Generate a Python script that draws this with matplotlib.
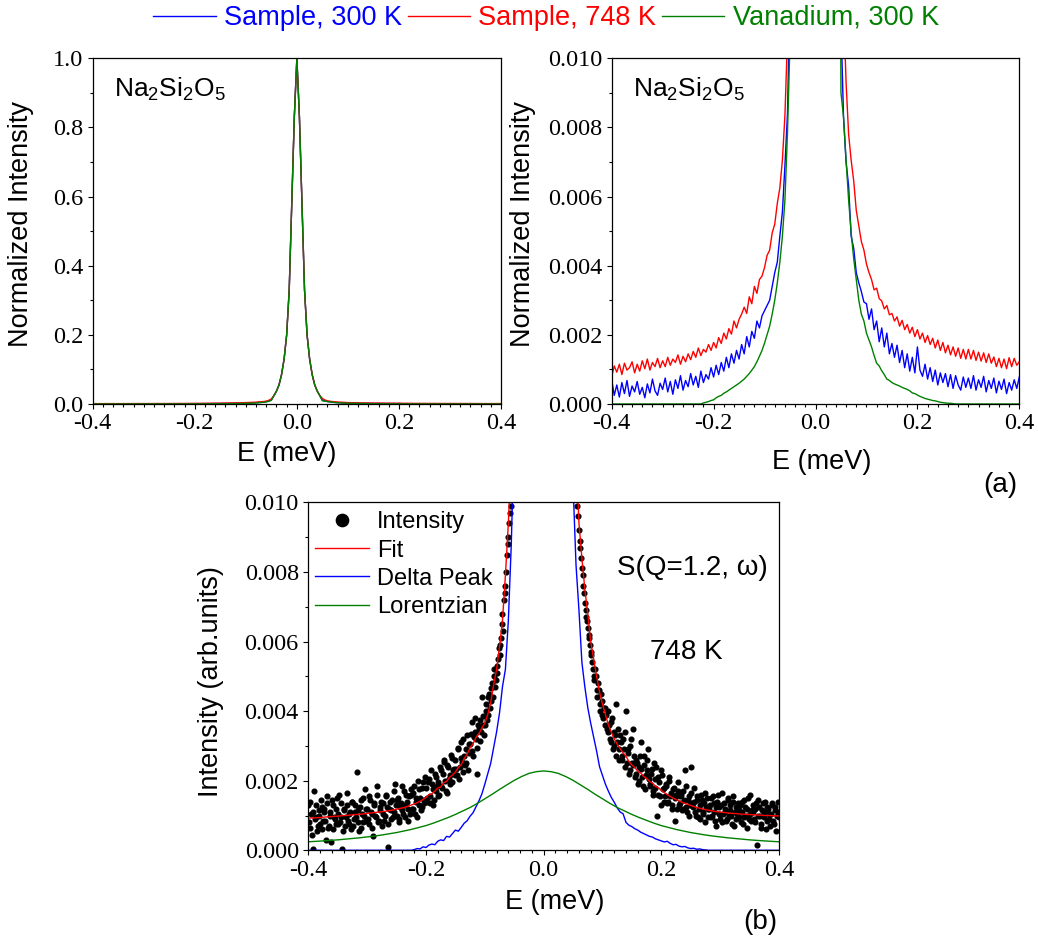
import numpy as np
import matplotlib
matplotlib.use("Agg")
from matplotlib import pyplot as plt
from matplotlib.ticker import MultipleLocator, FuncFormatter

plt.rcParams['font.family'] = ['Liberation Sans', 'DejaVu Sans']
plt.rcParams['mathtext.fontset'] = 'custom'
plt.rcParams['mathtext.rm'] = 'Liberation Sans'
plt.rcParams['mathtext.it'] = 'Liberation Sans:italic'
plt.rcParams['mathtext.bf'] = 'Liberation Sans:bold'
plt.rcParams['axes.unicode_minus'] = False

## Intensities in units of 1e-3 (normalized)
## tails: E = -0.400 ... -0.050 and 0.050 ... 0.400 in 0.005 meV bins
## core:  E = -0.045 ... 0.045 in 0.005 meV bins (all three spectra coincide)
peak_core = [24, 37, 55, 85, 130, 200, 330, 580, 830, 1000,
             830, 580, 330, 200, 130, 85, 55, 37, 24]

red_left = [0.80, 1.10, 0.92, 1.15, 0.85, 1.18, 0.98, 1.05, 1.22, 0.90,
            1.15, 0.95, 1.25, 1.02, 1.30, 0.98, 1.20, 1.08, 1.32, 1.05,
            1.25, 1.08, 1.35, 1.12, 1.30, 1.20, 1.42, 1.15, 1.38, 1.22,
            1.45, 1.28, 1.52, 1.35, 1.62, 1.40, 1.58, 1.50, 1.72, 1.55,
            1.78, 1.62, 1.92, 1.75, 2.05, 1.88, 2.18, 2.02, 2.40, 2.20,
            2.45, 2.60, 2.80, 2.62, 3.10, 2.90, 3.40, 3.20, 3.60, 3.70,
            3.95, 4.30, 4.45, 4.95, 5.20, 5.80, 6.25, 7.05, 8.35, 10.6,
            14.5]
red_right = [16.0, 11.5, 9.3, 7.8, 7.05, 6.45, 5.60, 5.15, 4.70, 4.45,
             4.05, 3.80, 3.60, 3.30, 3.35, 3.05, 2.98, 2.75, 2.85, 2.58,
             2.62, 2.40, 2.52, 2.25, 2.42, 2.15, 2.30, 2.05, 2.22, 1.95,
             2.15, 1.88, 2.05, 1.78, 1.98, 1.72, 1.90, 1.62, 1.85, 1.55,
             1.78, 1.48, 1.70, 1.42, 1.65, 1.38, 1.62, 1.32, 1.58, 1.30,
             1.58, 1.30, 1.55, 1.26, 1.50, 1.24, 1.48, 1.20, 1.45, 1.18,
             1.36, 1.08, 1.32, 1.05, 1.30, 1.02, 1.34, 1.08, 1.32, 1.12,
             1.22]

blue_left = [0.70, 0.25, 0.55, 0.20, 0.62, 0.30, 0.68, 0.22, 0.52, 0.35,
             0.65, 0.28, 0.48, 0.18, 0.58, 0.32, 0.72, 0.38, 0.25, 0.60,
             0.42, 0.75, 0.35, 0.65, 0.28, 0.70, 0.45, 0.82, 0.40, 0.68,
             0.50, 0.88, 0.55, 0.80, 0.48, 0.95, 0.62, 0.85, 0.72, 1.05,
             0.78, 1.12, 0.85, 1.20, 0.95, 1.35, 1.05, 1.45, 1.18, 1.55,
             1.30, 1.72, 1.45, 1.95, 1.65, 2.10, 1.90, 2.40, 2.20, 2.55,
             2.70, 2.85, 3.00, 3.40, 3.80, 4.10, 4.85, 5.55, 6.90, 8.40,
             12.0]
blue_right = [11.0, 8.3, 7.0, 6.3, 4.85, 4.50, 3.80, 3.50, 3.25, 2.95,
              2.90, 2.45, 2.75, 2.15, 2.40, 1.80, 2.20, 1.65, 2.05, 1.45,
              1.75, 1.35, 1.70, 1.20, 1.55, 1.05, 1.45, 0.95, 1.35, 0.90,
              1.65, 0.98, 0.80, 1.15, 0.72, 1.05, 0.65, 0.98, 0.55, 0.90,
              0.62, 0.88, 0.50, 0.85, 0.45, 0.82, 0.55, 0.40, 0.78, 0.48,
              0.75, 0.45, 0.82, 0.40, 0.70, 0.48, 0.80, 0.35, 0.68, 0.45,
              0.75, 0.32, 0.66, 0.42, 0.72, 0.30, 0.62, 0.40, 0.70, 0.45,
              0.78]

green_left = [0.0, 0.0, 0.0, 0.0, 0.0, 0.0, 0.0, 0.0, 0.0, 0.0,
              0.0, 0.0, 0.0, 0.0, 0.0, 0.0, 0.0, 0.0, 0.0, 0.0,
              0.0, 0.0, 0.0, 0.0, 0.0, 0.0, 0.0, 0.0, 0.0, 0.0,
              0.0, 0.0, 0.0, 0.0, 0.0, 0.0,
              0.03, 0.05, 0.07, 0.10, 0.12, 0.18, 0.22, 0.25, 0.31, 0.35,
              0.40, 0.45, 0.50, 0.55, 0.60, 0.66, 0.72, 0.80, 0.88, 0.98,
              1.08, 1.22, 1.38, 1.55, 1.76, 2.00, 2.25, 2.60, 3.00, 3.50,
              4.10, 4.85, 5.90, 7.85, 10.5]
green_right = [9.0, 8.3, 7.05, 5.90, 4.95, 4.20, 3.60, 3.00, 2.60, 2.40,
               2.05, 1.85, 1.65, 1.40, 1.18, 1.10, 0.96, 0.85, 0.72, 0.68,
               0.62, 0.58, 0.55, 0.52, 0.48, 0.45, 0.42, 0.38, 0.32, 0.30,
               0.26, 0.22, 0.19, 0.16, 0.14, 0.12, 0.10, 0.09, 0.07, 0.05,
               0.04, 0.03, 0.02, 0.02, 0.01,
               0.0, 0.0, 0.0, 0.0, 0.0, 0.0, 0.0, 0.0, 0.0, 0.0,
               0.0, 0.0, 0.0, 0.0, 0.0, 0.0, 0.0, 0.0, 0.0, 0.0,
               0.0, 0.0, 0.0, 0.0, 0.0, 0.0]

## Panel (b): S(Q=1.2, w) at 748 K, same tail bins
delta_left = [0.0, 0.0, 0.0, 0.0, 0.0, 0.0, 0.0, 0.0, 0.0, 0.0,
              0.0, 0.0, 0.0, 0.0, 0.0, 0.0, 0.0, 0.0, 0.0, 0.0,
              0.0, 0.0, 0.0, 0.0, 0.0, 0.0, 0.0, 0.0, 0.0, 0.0,
              0.0, 0.0, 0.0, 0.0, 0.0, 0.0,
              0.02, 0.05, 0.04, 0.10, 0.08, 0.15, 0.18, 0.16, 0.26, 0.30,
              0.28, 0.40, 0.38, 0.48, 0.58, 0.55, 0.66, 0.78, 0.85, 0.98,
              1.08, 1.25, 1.42, 1.62, 1.90, 2.20, 2.50, 2.95, 3.40, 3.95,
              4.70, 5.20, 6.60, 8.80, 12.0]
delta_right = [10.5, 8.2, 6.9, 5.4, 4.70, 4.10, 3.65, 3.25, 2.85, 2.40,
               2.15, 1.90, 1.70, 1.52, 1.38, 1.22, 1.10, 1.05, 0.80, 0.72,
               0.68, 0.62, 0.58, 0.52, 0.48, 0.44, 0.40, 0.38, 0.33, 0.30,
               0.27, 0.24, 0.26, 0.20, 0.16, 0.17, 0.12, 0.10, 0.11, 0.07,
               0.05, 0.06, 0.03, 0.04, 0.02, 0.01,
               0.0, 0.0, 0.0, 0.0, 0.0, 0.0, 0.0, 0.0, 0.0, 0.0,
               0.0, 0.0, 0.0, 0.0, 0.0, 0.0, 0.0, 0.0, 0.0, 0.0,
               0.0, 0.0, 0.0, 0.0, 0.0]

fit_left = [0.92, 0.93, 0.93, 0.94, 0.94, 0.95, 0.96, 0.96, 0.97, 0.98,
            0.98, 0.99, 1.00, 1.00, 1.01, 1.02, 1.03, 1.03, 1.04, 1.05,
            1.06, 1.07, 1.08, 1.09, 1.10, 1.11, 1.12, 1.13, 1.15, 1.16,
            1.18, 1.20, 1.22, 1.24, 1.27, 1.30, 1.33, 1.37, 1.41, 1.46,
            1.52, 1.60, 1.62, 1.70, 1.79, 1.82, 1.94, 1.98, 2.10, 2.16,
            2.25, 2.38, 2.46, 2.64, 2.76, 2.95, 3.06, 3.24, 3.34, 3.52,
            3.65, 3.90, 4.25, 4.75, 5.20, 5.85, 6.60, 7.90, 9.40, 11.5,
            15.0]
fit_right = [15.0, 11.5, 9.40, 8.40, 7.50, 6.80, 6.00, 5.50, 5.00, 4.55,
             4.20, 3.90, 3.60, 3.40, 3.20, 3.05, 2.92, 2.80, 2.70, 2.55,
             2.45, 2.38, 2.27, 2.22, 2.12, 2.07, 1.98, 1.93, 1.84, 1.80,
             1.72, 1.66, 1.60, 1.55, 1.50, 1.46, 1.42, 1.38, 1.35, 1.32,
             1.29, 1.26, 1.23, 1.21, 1.19, 1.17, 1.15, 1.14, 1.12, 1.11,
             1.10, 1.09, 1.08, 1.07, 1.06, 1.06, 1.05, 1.04, 1.04, 1.03,
             1.03, 1.02, 1.02, 1.01, 1.01, 1.00, 1.00, 1.00, 0.99, 0.99,
             0.99]

## Lorentzian: E = -0.4 ... 0.4 in 0.0125 meV steps
lor_values = [0.245, 0.257, 0.27, 0.285, 0.30, 0.32, 0.34, 0.36, 0.385, 0.41,
              0.44, 0.475, 0.51, 0.555, 0.60, 0.655, 0.71, 0.78, 0.86, 0.94,
              1.03, 1.13, 1.23, 1.35, 1.48, 1.61, 1.75, 1.88, 2.01, 2.12,
              2.21, 2.26, 2.28, 2.26, 2.21, 2.12, 2.01, 1.88, 1.75, 1.61,
              1.48, 1.35, 1.23, 1.13, 1.03, 0.94, 0.86, 0.78, 0.71, 0.655,
              0.60, 0.555, 0.51, 0.475, 0.44, 0.41, 0.385, 0.36, 0.34, 0.32,
              0.30, 0.285, 0.27, 0.257, 0.245]

## Measured points, two interleaved detector sets (0.0025 meV spacing)
## set A: left E = -0.4 ... -0.0575, right E = 0.0575 ... 0.4
dots_a_left = [1.30, 0.65, 1.05, 0.05, 1.70, 0.95, 0.55, 1.15, 0.75, 1.25,
               0.85, 1.10, 0.30, 1.35, 0.70, 1.00, 1.45, 0.60, 0.90, 1.20,
               0.75, 1.60, 0.95, 0.05, 1.15, 0.70, 1.30, 0.85, 1.05, 0.60,
               1.40, 0.90, 1.10, 2.25, 0.80, 1.25, 0.65, 1.50, 1.00, 0.85,
               1.20, 0.75, 1.45, 1.05, 0.40, 1.30, 0.95, 1.60, 0.85, 1.15,
               0.70, 1.35, 1.00, 1.55, 0.10, 1.20, 0.90, 1.45, 1.10, 1.90,
               1.00, 1.50, 0.80, 1.35, 1.15, 1.70, 0.95, 1.40, 1.20, 1.05,
               1.60, 1.20, 1.85, 1.40, 0.95, 1.75, 1.50, 1.25, 1.95, 1.45,
               1.80, 1.40, 2.05, 1.55, 1.90, 1.30, 2.20, 1.70, 1.95, 1.60,
               2.30, 1.80, 2.55, 2.00, 1.65, 2.40, 2.15, 2.75, 1.95, 2.35,
               2.60, 2.15, 2.90, 2.40, 3.10, 2.25, 2.70, 2.50, 3.30, 2.80,
               3.05, 3.70, 2.70, 3.40, 3.20, 2.20, 3.50, 3.75, 4.40, 3.60,
               3.60, 4.20, 3.90, 4.50, 4.30, 4.80, 5.00, 4.70, 5.30, 5.50,
               5.60, 6.10, 6.80, 7.20, 7.60, 8.50, 9.00, 9.70]
dots_a_right = [9.90, 9.20, 8.70, 8.10, 7.60, 7.10, 6.70, 6.40, 6.10, 5.70,
                5.40, 5.00, 5.20, 4.60, 4.80, 4.20, 4.50, 3.90, 4.10, 3.60,
                3.50, 4.00, 3.20, 3.70, 2.90, 3.40, 4.20, 3.10, 2.60, 3.30,
                2.70, 3.20, 2.40, 4.00, 2.90, 2.20, 3.00, 2.50, 3.50, 2.10,
                2.60, 1.90, 2.40, 3.10, 2.10, 2.70, 1.75, 2.30, 2.90, 1.85,
                2.20, 1.60, 2.50, 1.80, 1.00, 2.10, 1.55, 2.30, 1.75, 1.40,
                1.90, 1.35, 2.10, 1.55, 1.20, 1.75, 0.85, 1.60, 1.95, 1.30,
                1.55, 1.15, 1.70, 2.30, 1.25, 1.45, 1.00, 1.65, 1.35, 1.80,
                1.10, 1.45, 0.95, 1.30, 1.60, 1.05, 1.35, 0.80, 1.50, 1.20,
                1.30, 0.95, 1.55, 1.10, 0.70, 1.40, 1.25, 0.90, 1.65, 1.05,
                1.20, 0.85, 1.45, 1.00, 1.30, 0.75, 1.55, 1.10, 0.90, 1.35,
                1.15, 0.80, 1.40, 0.95, 1.25, 0.65, 1.50, 1.05, 0.85, 1.30,
                0.90, 1.20, 0.15, 1.45, 1.00, 0.75, 1.35, 1.10, 0.60, 1.25,
                1.05, 0.70, 1.30, 0.85, 1.15, 0.55, 1.40, 0.95]
## set B: left E = -0.39875 ... -0.05625, right E = 0.05625 ... 0.39875
dots_b_left = [0.80, 1.40, 0.45, 1.10, 0.90, 1.30, 0.70, 1.00, 1.45, 0.60,
               1.20, 0.85, 1.55, 0.65, 1.10, 0.25, 1.30, 0.95, 0.75, 1.50,
               1.05, 0.80, 1.35, 0.55, 1.20, 0.95, 1.65, 0.75, 1.10, 1.40,
               0.70, 1.30, 0.95, 1.15, 0.55, 1.45, 1.05, 0.80, 1.75, 1.20,
               0.90, 1.55, 1.10, 0.65, 1.35, 1.00, 1.85, 0.80, 1.25, 1.40,
               1.05, 0.85, 1.60, 1.25, 0.75, 1.40, 1.15, 0.95, 1.70, 1.30,
               1.45, 0.90, 1.25, 1.85, 1.05, 1.30, 1.60, 0.85, 1.55, 1.75,
               1.20, 1.65, 1.05, 1.50, 2.00, 1.30, 1.15, 1.80, 1.35, 2.10,
               1.50, 1.95, 1.35, 2.30, 1.75, 1.45, 2.10, 1.85, 1.55, 2.40,
               1.85, 2.20, 2.60, 1.70, 2.45, 2.05, 1.90, 2.65, 2.30, 2.15,
               2.35, 2.95, 2.05, 2.65, 2.55, 3.20, 2.45, 2.90, 2.30, 3.05,
               3.35, 2.85, 3.25, 3.80, 2.95, 3.60, 3.15, 3.40, 3.85, 3.30,
               4.00, 3.75, 4.40, 4.10, 4.65, 4.40, 5.20, 4.90, 5.10, 5.80,
               5.90, 6.50, 6.30, 7.40, 8.00, 8.80, 9.40, 9.90]
dots_b_right = [10.2, 9.60, 8.90, 8.40, 7.90, 7.40, 6.90, 6.60, 6.20, 5.90,
                5.60, 5.20, 4.90, 5.00, 4.40, 4.60, 4.00, 4.30, 3.80, 4.10,
                3.90, 3.40, 3.60, 3.10, 3.80, 3.00, 3.30, 2.70, 3.50, 2.90,
                3.10, 2.60, 2.90, 3.40, 2.50, 2.80, 2.30, 3.20, 2.45, 2.70,
                2.20, 2.50, 2.00, 2.70, 2.35, 1.85, 2.45, 2.15, 2.60, 2.05,
                1.90, 2.35, 1.70, 2.05, 2.40, 1.60, 1.95, 1.30, 2.15, 1.80,
                1.55, 1.85, 1.40, 2.00, 1.65, 1.30, 1.80, 1.50, 1.20, 1.70,
                1.35, 1.60, 1.20, 1.45, 1.85, 1.10, 1.55, 1.30, 2.40, 1.25,
                1.40, 1.00, 1.55, 1.20, 0.90, 1.45, 1.10, 1.65, 1.25, 0.95,
                1.20, 1.50, 1.00, 1.35, 0.85, 1.25, 1.60, 1.05, 1.30, 0.80,
                1.35, 1.10, 0.90, 1.50, 1.15, 1.00, 1.40, 0.70, 1.25, 1.05,
                0.95, 1.30, 1.10, 0.75, 1.45, 1.00, 1.20, 0.90, 1.60, 1.15,
                1.10, 0.80, 1.35, 1.00, 1.25, 0.65, 1.15, 0.95, 1.40, 0.85,
                1.20, 0.90, 1.05, 1.35, 0.75, 1.25, 1.00, 1.10]

## Energy bins
e_left = np.round(-0.4 + 0.005 * np.arange(71), 4)
e_core = np.round(-0.045 + 0.005 * np.arange(19), 4)
e_right = np.round(0.05 + 0.005 * np.arange(71), 4)
e_full = np.concatenate([e_left, e_core, e_right])
e_tails = np.concatenate([e_left, e_right])
e_lor = np.round(-0.4 + 0.0125 * np.arange(65), 5)
e_dots = np.concatenate([np.round(-0.4 + 0.0025 * np.arange(138), 5),
                         np.round(0.0575 + 0.0025 * np.arange(138), 5),
                         np.round(-0.39875 + 0.0025 * np.arange(138), 5),
                         np.round(0.05625 + 0.0025 * np.arange(138), 5)])

scale = 1e-3
sample_300 = np.array(blue_left + peak_core + blue_right) * scale
sample_748 = np.array(red_left + peak_core + red_right) * scale
vanadium = np.array(green_left + peak_core + green_right) * scale
fit = np.array(fit_left + fit_right) * scale
delta = np.array(delta_left + delta_right) * scale
lorentz = np.array(lor_values) * scale
dots = np.array(dots_a_left + dots_a_right + dots_b_left + dots_b_right) * scale

BLUE, RED, GREEN = '#0000ff', '#ff0000', '#008000'


def fmt(decimals):
    def f(v, pos):
        if abs(v) < 1e-12:
            v = 0.0
        return f"{v:.{decimals}f}"
    return FuncFormatter(f)


def style_axis(ax, ymax, ymajor, yminor, ydec):
    ax.set_xlim(-0.4, 0.4)
    ax.set_ylim(0, ymax)
    ax.xaxis.set_major_locator(MultipleLocator(0.2))
    ax.xaxis.set_minor_locator(MultipleLocator(0.02))
    ax.yaxis.set_major_locator(MultipleLocator(ymajor))
    ax.yaxis.set_minor_locator(MultipleLocator(yminor))
    ax.xaxis.set_major_formatter(fmt(1))
    ax.yaxis.set_major_formatter(fmt(ydec))
    ax.tick_params(which='both', direction='out', top=False, right=False,
                   labelsize=17.5, labelfontfamily='Liberation Serif', pad=3)
    ax.tick_params(which='major', length=3.8, width=0.8)
    ax.tick_params(which='minor', length=2.4, width=0.8)
    for sp in ax.spines.values():
        sp.set_linewidth(0.9)


fig = plt.figure(figsize=(10.38, 9.43), dpi=100)
ax1 = fig.add_axes([0.0893, 0.5716, 0.3934, 0.3666])
ax2 = fig.add_axes([0.5893, 0.5716, 0.3927, 0.3666])
ax3 = fig.add_axes([0.2970, 0.0983, 0.4535, 0.3690])

## (a) full peak and zoom on the wings
for ax in (ax1, ax2):
    ax.plot(e_full, sample_300, color=BLUE, lw=1.0, label='Sample, 300 K')
    ax.plot(e_full, sample_748, color=RED, lw=1.0, label='Sample, 748 K')
    ax.plot(e_full, vanadium, color=GREEN, lw=1.0, label='Vanadium, 300 K')

style_axis(ax1, 1.0, 0.2, 0.1, 1)
style_axis(ax2, 0.01, 0.002, 0.001, 3)

for ax, xl, yl, ylx in ((ax1, 0.476, -0.106, -0.144), (ax2, 0.515, -0.130, -0.186)):
    ax.set_xlabel('E (meV)', fontsize=19.5)
    ax.xaxis.set_label_coords(xl, yl)
    ax.set_ylabel('Normalized Intensity', fontsize=19.5)
    ax.yaxis.set_label_coords(ylx, 0.522)
    ax.text(0.053, 0.89, r'Na$_2$Si$_2$O$_5$', transform=ax.transAxes,
            fontsize=19, va='baseline', ha='left')

## (b) fit decomposition
ax3.plot(e_dots, dots, 'o', ms=3.4, color='black', mec='black', label='Intensity')
ax3.plot(e_tails, fit, color=RED, lw=1.0, label='Fit')
ax3.plot(e_tails, delta, color=BLUE, lw=1.0, label='Delta Peak')
ax3.plot(e_lor, lorentz, color=GREEN, lw=1.0, label='Lorentzian')
style_axis(ax3, 0.01, 0.002, 0.001, 3)
ax3.set_xlabel('E (meV)', fontsize=19.5)
ax3.xaxis.set_label_coords(0.524, -0.111)
ax3.set_ylabel('Intensity (arb.units)', fontsize=19.5)
ax3.yaxis.set_label_coords(-0.180, 0.485)
ax3.legend(loc='upper left', bbox_to_anchor=(0.014, 0.974), frameon=False,
           fontsize=17, markerscale=2.6, handlelength=2.3, handletextpad=0.33,
           labelspacing=0.26, borderaxespad=0, borderpad=0)
ax3.text(0.655, 0.811, r'S(Q=1.2, ω)', transform=ax3.transAxes, fontsize=20,
         va='center', ha='left')
ax3.text(0.726, 0.571, '748 K', transform=ax3.transAxes, fontsize=20,
         va='center', ha='left')

## shared legend on top
handles, labels = ax2.get_legend_handles_labels()
fig.legend(handles, labels, loc='center', bbox_to_anchor=(546 / 1038, 1 - 18 / 943),
           ncol=3, frameon=False, fontsize=19.5, handlelength=2.3,
           handletextpad=0.3, columnspacing=0.22, labelcolor='linecolor')

fig.text(1000 / 1038, 1 - 485 / 943, '(a)', fontsize=20, ha='center', va='center')
fig.text(760 / 1038, 1 - 922 / 943, '(b)', fontsize=20, ha='center', va='center')

fig.savefig('out.png', dpi=100)
